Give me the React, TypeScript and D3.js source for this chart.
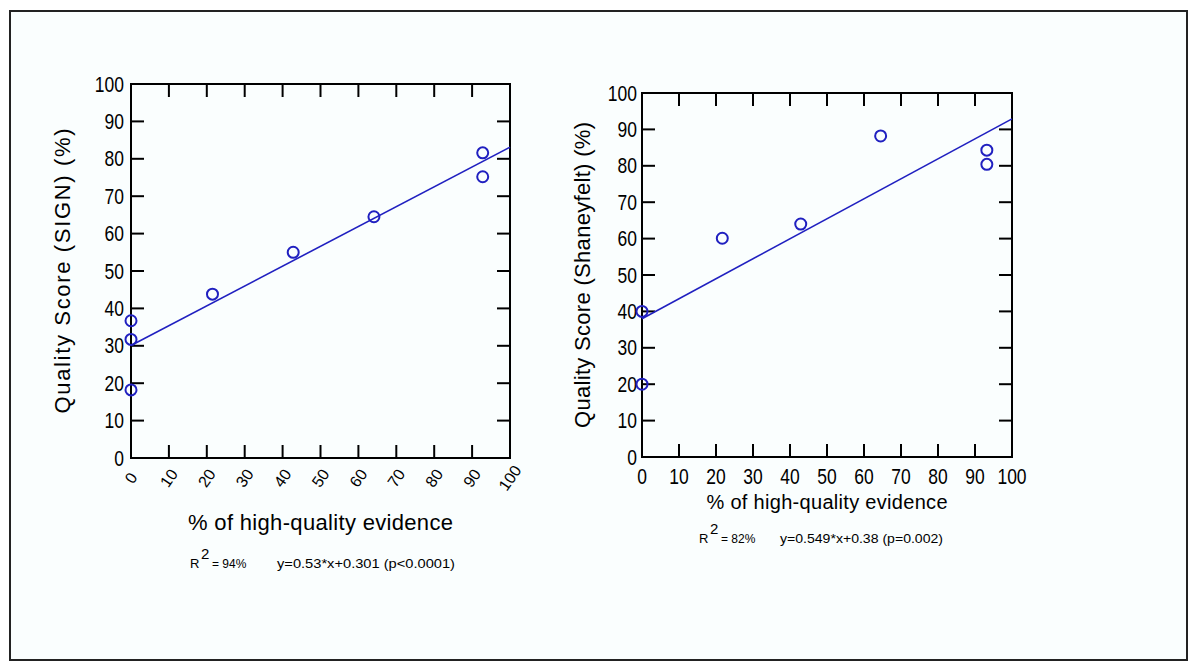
import React from "react";
import * as d3 from "d3";

const ticks = [0, 10, 20, 30, 40, 50, 60, 70, 80, 90, 100];
const tickLabels = ticks.map(String);

const signX = [0, 0, 0, 21.5, 42.8, 64.1, 92.8, 92.8];
const signY = [36.7, 31.7, 18.2, 43.8, 55.0, 64.5, 81.6, 75.2];
const signFit = [0.53, 30.1];

const shanX = [0, 0, 21.7, 42.9, 64.5, 93.2, 93.2];
const shanY = [40, 20, 60.1, 64.0, 88.2, 84.3, 80.4];
const shanFit = [0.549, 38];

const signYTitle = "Quality Score (SIGN) (%)";
const shanYTitle = "Quality Score (Shaneyfelt) (%)";
const xTitle = "% of high-quality evidence";
const signR2 = "= 94%";
const shanR2 = "= 82%";
const signEq = "y=0.53*x+0.301 (p<0.0001)";
const shanEq = "y=0.549*x+0.38 (p=0.002)";

const BLUE = "#2020c0";
const FONT = "'Liberation Sans', Arial, sans-serif";

type PanelProps = {
  xs: number[];
  ys: number[];
  fit: number[];
  xRange: [number, number];
  yRange: [number, number];
  rotatedX: boolean;
  yTitle: string;
  yTitleX: number;
  yTitleLen: number;
  xTitleY: number;
  xTitleLen: number;
  xTitleSize: number;
  xLabelY: number;
  r2X: number;
  eqX: number;
  eqLen: number;
  capY: number;
  r2: string;
  eq: string;
  yLabelGap: number;
};

function Panel(p: PanelProps) {
  const x = d3.scaleLinear().domain([0, 100]).range(p.xRange);
  const y = d3.scaleLinear().domain([0, 100]).range(p.yRange);
  const [x0, x1] = p.xRange;
  const [y0, y1] = p.yRange;
  const tl = 13;
  const line = d3
    .line<number>()
    .x((d) => x(d))
    .y((d) => y(p.fit[0] * d + p.fit[1]));
  const midY = (y0 + y1) / 2;
  const midX = (x0 + x1) / 2;
  return (
    <g>
      <rect x={x0} y={y1} width={x1 - x0} height={y0 - y1} fill="none" stroke="#000" strokeWidth={2} />
      {ticks.map((t, i) => (
        <g key={"t" + i}>
          {i > 0 && i < ticks.length - 1 && (
            <>
              <line x1={x(t)} x2={x(t)} y1={y0} y2={y0 - tl} stroke="#000" strokeWidth={2} />
              <line x1={x(t)} x2={x(t)} y1={y1} y2={y1 + tl} stroke="#000" strokeWidth={2} />
              <line x1={x0} x2={x0 + tl} y1={y(t)} y2={y(t)} stroke="#000" strokeWidth={2} />
              <line x1={x1} x2={x1 - tl} y1={y(t)} y2={y(t)} stroke="#000" strokeWidth={2} />
            </>
          )}
          <text
            transform={`translate(${x0 - p.yLabelGap},${y(t)}) scale(0.92,1.12)`}
            textAnchor="end"
            dominantBaseline="central"
            fontFamily={FONT}
            fontSize={19}
            fill="#000"
          >
            {tickLabels[i]}
          </text>
          {p.rotatedX ? (
            <text
              transform={`translate(${x(t)},${p.xLabelY}) rotate(-55)`}
              textAnchor="middle"
              dominantBaseline="central"
              fontFamily={FONT}
              fontSize={16}
              fill="#000"
            >
              {tickLabels[i]}
            </text>
          ) : (
            <text
              transform={`translate(${x(t)},${p.xLabelY}) scale(0.92,1.12)`}
              textAnchor="middle"
              dominantBaseline="central"
              fontFamily={FONT}
              fontSize={19}
              fill="#000"
            >
              {tickLabels[i]}
            </text>
          )}
        </g>
      ))}
      <path d={line([0, 100]) || ""} fill="none" stroke={BLUE} strokeWidth={1.6} />
      {p.xs.map((v, i) => (
        <circle key={"p" + i} cx={x(v)} cy={y(p.ys[i])} r={5.5} fill="none" stroke={BLUE} strokeWidth={2} />
      ))}
      <text
        transform={`translate(${p.yTitleX},${midY}) rotate(-90)`}
        textAnchor="middle"
        dominantBaseline="central"
        fontFamily={FONT}
        fontSize={22}
        textLength={p.yTitleLen}
        lengthAdjust="spacing"
        fill="#000"
      >
        {p.yTitle}
      </text>
      <text
        x={midX}
        y={p.xTitleY}
        textAnchor="middle"
        dominantBaseline="central"
        fontFamily={FONT}
        fontSize={p.xTitleSize}
        textLength={p.xTitleLen}
        lengthAdjust="spacing"
        fill="#000"
      >
        {xTitle}
      </text>
      <text x={p.r2X} y={p.capY + 5} fontFamily={FONT} fontSize={13} fill="#000">
        R
      </text>
      <text x={p.r2X + 11} y={p.capY - 4} fontFamily={FONT} fontSize={15} fill="#000">
        2
      </text>
      <text x={p.r2X + 22} y={p.capY + 5} fontFamily={FONT} fontSize={12} fill="#000">
        {p.r2}
      </text>
      <text
        x={p.eqX}
        y={p.capY + 5}
        fontFamily={FONT}
        fontSize={13}
        textLength={p.eqLen}
        lengthAdjust="spacingAndGlyphs"
        fill="#000"
      >
        {p.eq}
      </text>
    </g>
  );
}

export default function App() {
  return (
    <svg
      width={1198}
      height={669}
      style={{ position: "absolute", left: 0, top: 0, background: "#fff" }}
    >
      <rect x={0} y={0} width={1198} height={669} fill="#fff" />
      <rect x={10} y={11} width={1177} height={649} fill="#fafefe" stroke="#222" strokeWidth={2} />
      <Panel
        xs={signX}
        ys={signY}
        fit={signFit}
        xRange={[131, 510]}
        yRange={[458, 84]}
        rotatedX={true}
        yTitle={signYTitle}
        yTitleX={62}
        yTitleLen={285}
        xTitleY={522}
        xTitleLen={265}
        xTitleSize={22}
        xLabelY={478}
        r2X={190}
        eqX={277}
        eqLen={178}
        capY={563}
        r2={signR2}
        eq={signEq}
        yLabelGap={7}
      />
      <Panel
        xs={shanX}
        ys={shanY}
        fit={shanFit}
        xRange={[642, 1012]}
        yRange={[457, 93]}
        rotatedX={false}
        yTitle={shanYTitle}
        yTitleX={582}
        yTitleLen={306}
        xTitleY={502}
        xTitleLen={241}
        xTitleSize={20}
        xLabelY={476}
        r2X={699}
        eqX={780}
        eqLen={163}
        capY={538}
        r2={shanR2}
        eq={shanEq}
        yLabelGap={5}
      />
    </svg>
  );
}
